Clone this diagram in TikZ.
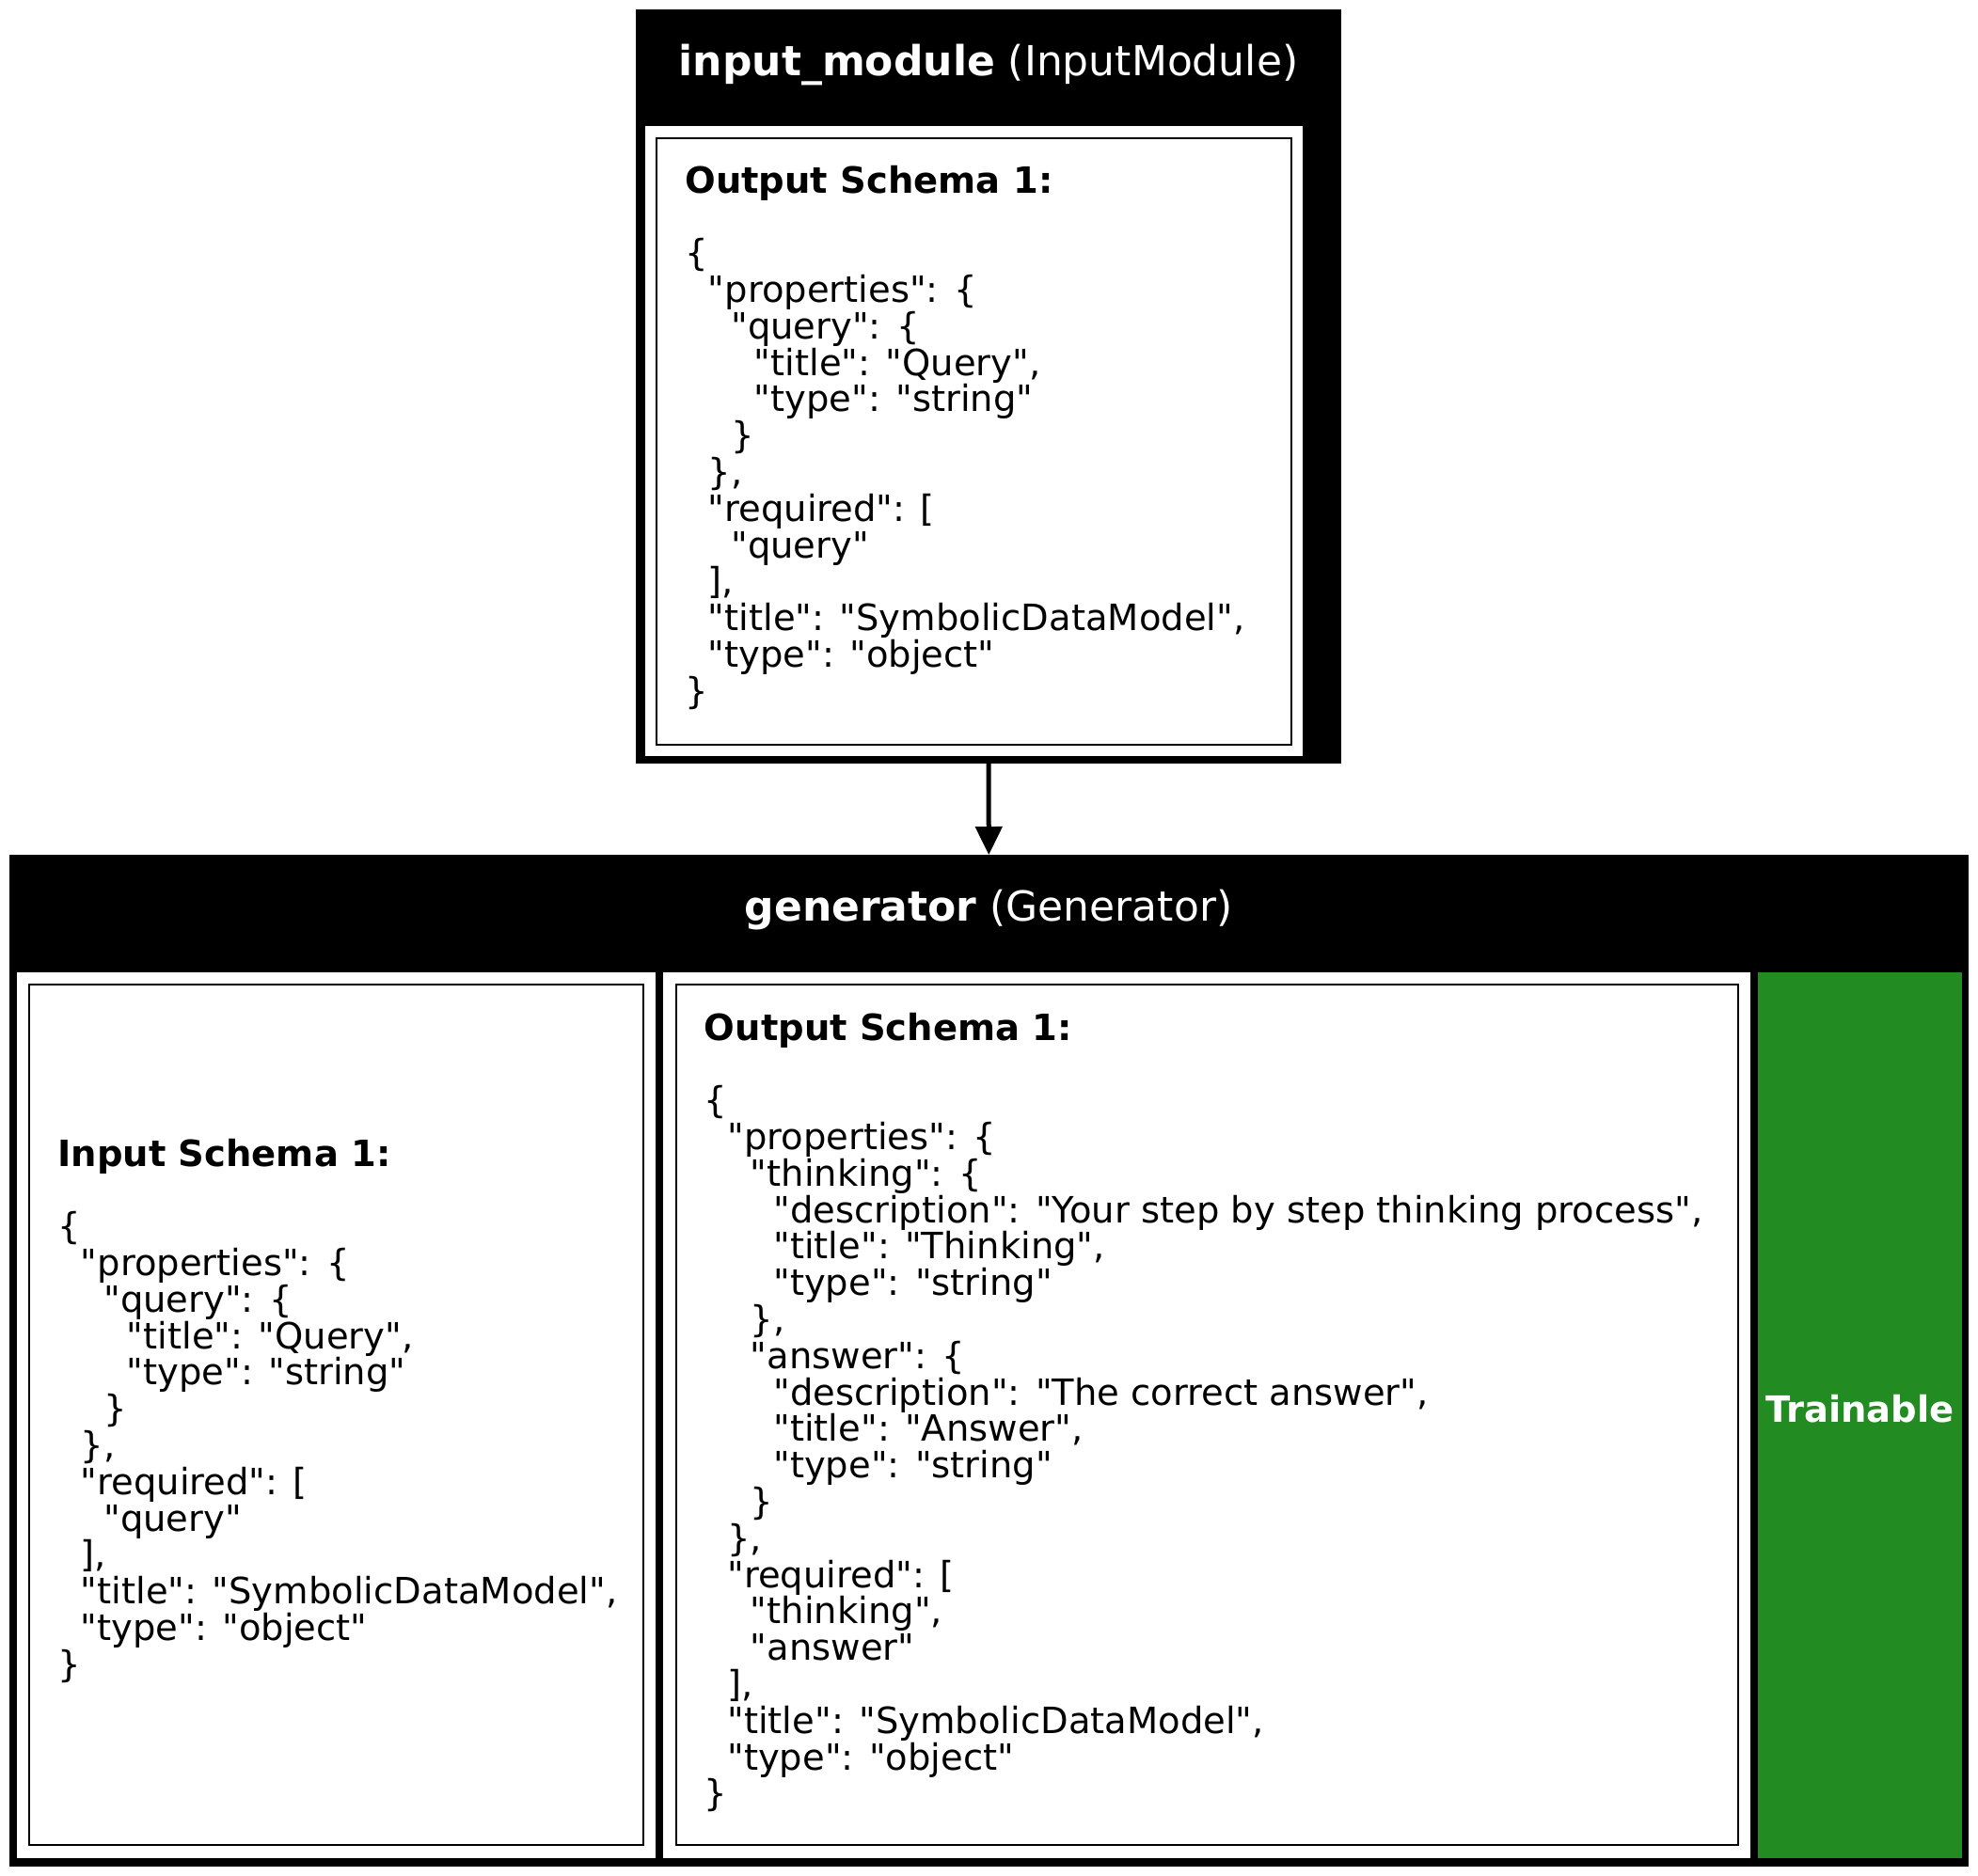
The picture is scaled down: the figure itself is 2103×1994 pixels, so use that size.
\documentclass[tikz,border=0pt]{standalone}
\usepackage{fontspec}
\setmainfont{DejaVu Sans}
\usetikzlibrary{arrows.meta}
\definecolor{trgreen}{HTML}{228B22}
\newcommand\qq{\XeTeXglyph\XeTeXcharglyph34\relax}
\newcommand\Q[1]{\qq #1\qq}
\newcommand\jl[2]{\hbox{\hskip#1\fontdimen2\font\relax #2}}
\newcommand\blk[1]{\vtop{\fontsize{19.25pt}{19.4pt}\selectfont\lineskiplimit=-100pt\lineskip=0pt\baselineskip=19.4pt #1}}
\tikzset{
  framebox/.style={fill=black, draw=none, inner sep=0pt, outer sep=0pt, anchor=north west},
  panel/.style={fill=white, draw=none, inner sep=0pt, outer sep=0pt, anchor=north west},
  schemabox/.style={draw=black, line width=1pt, fill=none, inner sep=0pt, outer sep=0pt, anchor=north west},
  trainbox/.style={fill=trgreen, draw=none, inner sep=0pt, outer sep=0pt, anchor=north west},
  titletext/.style={text=white, inner sep=0pt, anchor=base, font=\fontsize{22pt}{24pt}\selectfont},
  bodytext/.style={text=black, inner sep=0pt, anchor=base west},
  trainlabel/.style={text=white, inner sep=0pt, anchor=base, font=\fontsize{19.25pt}{19.4pt}\selectfont\bfseries},
  flow/.style={line width=2.5pt, -{Triangle[length=15pt,width=14pt]}}
}
\begin{document}
\begin{tikzpicture}[x=0.5pt,y=-0.5pt]
\useasboundingbox (0,0) rectangle (2103,1994);

% input_module
\node[framebox, minimum width=375pt, minimum height=401pt] (im) at (676,10) {};
\node[titletext] (imtitle) at (1051,80) {\textbf{input\_module} (InputModule)};
\node[panel, minimum width=349.5pt, minimum height=335pt] (imp) at (686,134) {};
\node[schemabox, minimum width=337.5pt, minimum height=322.25pt] (imr) at (698,147) {};
\node[bodytext] (imtext) at (728,205) {\blk{%
\jl{0}{\bfseries Output Schema 1:}
\hbox{}
\jl{0}{\{}
\jl{2}{\Q{properties}: \{}
\jl{4}{\Q{query}: \{}
\jl{6}{\Q{title}: \Q{Query},}
\jl{6}{\Q{type}: \Q{string}}
\jl{4}{\}}
\jl{2}{\},}
\jl{2}{\Q{required}: [}
\jl{4}{\Q{query}}
\jl{2}{],}
\jl{2}{\Q{title}: \Q{SymbolicDataModel},}
\jl{2}{\Q{type}: \Q{object}}
\jl{0}{\}}
}};

% generator
\node[framebox, minimum width=1041.65pt, minimum height=538pt] (gen) at (9.7,909) {};
\node[titletext] (gentitle) at (1051,979) {\textbf{generator} (Generator)};
\node[panel, minimum width=339.5pt, minimum height=471pt] (gp1) at (18,1034) {};
\node[schemabox, minimum width=326.5pt, minimum height=457.5pt] (gr1) at (31,1047) {};
\node[panel, minimum width=578pt, minimum height=471pt] (gp2) at (705,1034) {};
\node[schemabox, minimum width=564.75pt, minimum height=457.5pt] (gr2) at (718.5,1047) {};
\node[trainbox, minimum width=108.5pt, minimum height=471pt] (gtr) at (1869,1034) {};

\node[bodytext] (gtext1) at (61,1240) {\blk{%
\jl{0}{\bfseries Input Schema 1:}
\hbox{}
\jl{0}{\{}
\jl{2}{\Q{properties}: \{}
\jl{4}{\Q{query}: \{}
\jl{6}{\Q{title}: \Q{Query},}
\jl{6}{\Q{type}: \Q{string}}
\jl{4}{\}}
\jl{2}{\},}
\jl{2}{\Q{required}: [}
\jl{4}{\Q{query}}
\jl{2}{],}
\jl{2}{\Q{title}: \Q{SymbolicDataModel},}
\jl{2}{\Q{type}: \Q{object}}
\jl{0}{\}}
}};

\node[bodytext] (gtext2) at (748.5,1106) {\blk{%
\jl{0}{\bfseries Output Schema 1:}
\hbox{}
\jl{0}{\{}
\jl{2}{\Q{properties}: \{}
\jl{4}{\Q{thinking}: \{}
\jl{6}{\Q{description}: \Q{Your step by step thinking process},}
\jl{6}{\Q{title}: \Q{Thinking},}
\jl{6}{\Q{type}: \Q{string}}
\jl{4}{\},}
\jl{4}{\Q{answer}: \{}
\jl{6}{\Q{description}: \Q{The correct answer},}
\jl{6}{\Q{title}: \Q{Answer},}
\jl{6}{\Q{type}: \Q{string}}
\jl{4}{\}}
\jl{2}{\},}
\jl{2}{\Q{required}: [}
\jl{4}{\Q{thinking},}
\jl{4}{\Q{answer}}
\jl{2}{],}
\jl{2}{\Q{title}: \Q{SymbolicDataModel},}
\jl{2}{\Q{type}: \Q{object}}
\jl{0}{\}}
}};

\node[trainlabel] (trainable) at (1977.5,1512) {Trainable};

% connector
\draw[flow] (im.south) -- (gen.north);
\end{tikzpicture}
\end{document}
